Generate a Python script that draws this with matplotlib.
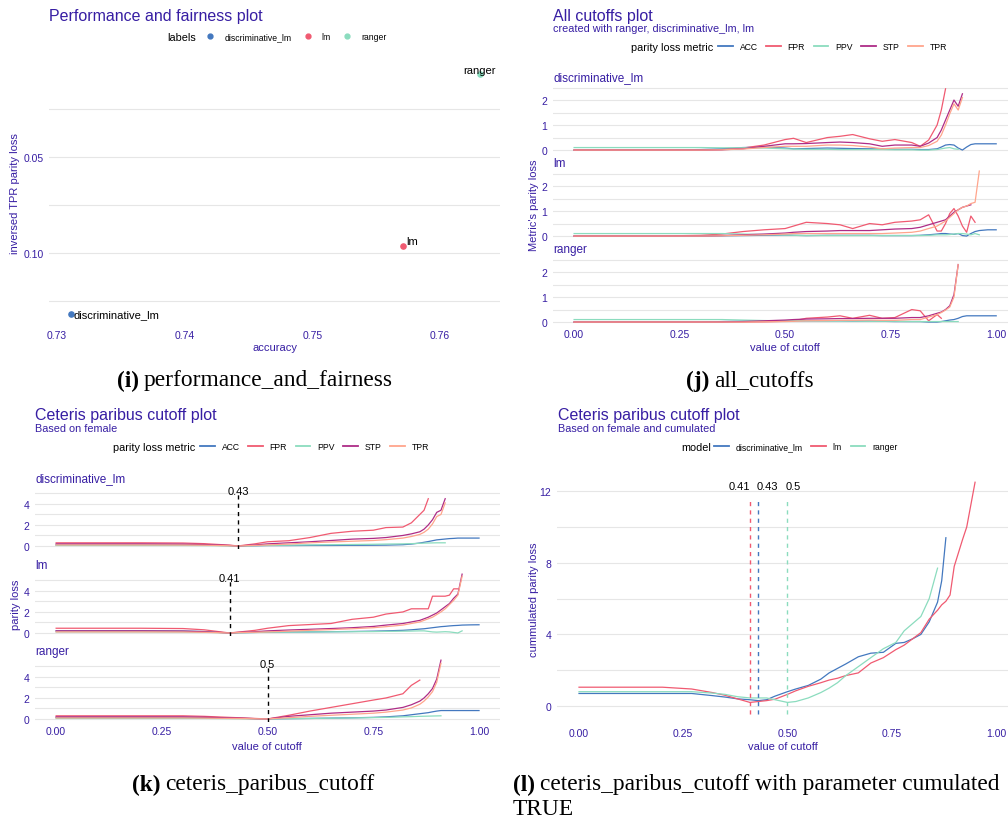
import matplotlib.pyplot as plt
from matplotlib.lines import Line2D
import numpy as np

plt.rcParams['font.family'] = ['Liberation Sans', 'DejaVu Sans']

n = np.nan

# ---------- (i) performance and fairness ----------
pf_models = ['discriminative_lm', 'lm', 'ranger']
pf_accuracy = [0.7311, 0.7571, 0.7631]
pf_inv_tpr_loss = [0.1316, 0.0964, 0.0066]

# ---------- (j) all cutoffs ----------
metrics = ['ACC', 'FPR', 'PPV', 'STP', 'TPR']
cut_j = [0.00, 0.10, 0.20, 0.30, 0.35, 0.40, 0.45, 0.50, 0.52, 0.55, 0.60, 0.63, 0.66, 0.70, 0.73, 0.76,
         0.80, 0.82, 0.84, 0.86, 0.87, 0.88, 0.89, 0.90, 0.91, 0.92, 0.93, 0.94, 0.95, 0.96, 0.98, 1.00]
all_dlm = {
    'ACC': [0, 0, 0, 0.02, 0.05, 0.1, 0.12, 0.08, 0.05, 0.06, 0.08, 0.07, 0.06, 0.05, 0.04, 0.03,
            0.03, 0.02, 0.02, 0.05, 0.12, 0.2, 0.22, 0.2, 0.08, 0.0, 0.12, 0.22, 0.25, 0.25, 0.25, 0.25],
    'FPR': [0, 0, 0, 0, 0.02, 0.08, 0.2, 0.42, 0.47, 0.3, 0.5, 0.55, 0.62, 0.45, 0.35, 0.42,
            0.3, 0.15, 0.4, 1.0, 1.6, 2.45, n, n, n, n, n, n, n, n, n, n],
    'PPV': [0.1, 0.1, 0.1, 0.1, 0.09, 0.09, 0.08, 0.05, 0.04, 0.03, 0.03, 0.02, 0.02, 0.02, 0.02, 0.01,
            0.01, 0.0, 0.0, 0.02, 0.05, 0.08, 0.1, 0.05, 0.03, n, n, n, n, n, n, n],
    'STP': [0, 0, 0, 0, 0.01, 0.05, 0.15, 0.25, 0.25, 0.26, 0.3, 0.32, 0.3, 0.25, 0.15, 0.2,
            0.2, 0.15, 0.28, 0.5, 0.8, 1.2, 1.6, 2.0, 1.75, 2.25, n, n, n, n, n, n],
    'TPR': [0, 0, 0, 0, 0.01, 0.04, 0.1, 0.15, 0.15, 0.15, 0.2, 0.2, 0.18, 0.12, 0.05, 0.08,
            0.1, 0.1, 0.18, 0.35, 0.6, 1.0, 1.45, 1.85, 1.6, 2.1, n, n, n, n, n, n],
}
all_lm = {
    'ACC': [0, 0, 0, 0, 0.01, 0.02, 0.03, 0.04, 0.03, 0.02, 0.03, 0.03, 0.03, 0.03, 0.02, 0.02,
            0.02, 0.03, 0.05, 0.08, 0.1, 0.1, 0.08, 0.07, 0.1, 0.02, 0.0, 0.1, 0.18, 0.22, 0.25, 0.25],
    'FPR': [0, 0, 0, 0.03, 0.08, 0.18, 0.25, 0.3, 0.4, 0.55, 0.5, 0.45, 0.3, 0.5, 0.45, 0.55,
            0.6, 0.65, 0.85, 0.2, 0.2, 0.5, 0.9, 1.1, 0.8, 0.4, 0.15, 0.8, 0.55, n, n, n],
    'PPV': [0.1, 0.1, 0.1, 0.1, 0.1, 0.08, 0.06, 0.04, 0.03, 0.02, 0.02, 0.02, 0.02, 0.02, 0.02, 0.02,
            0.02, 0.02, 0.03, 0.05, 0.05, 0.05, 0.06, 0.08, 0.1, 0.1, 0.08, 0.05, 0.1, 0.05, n, n],
    'STP': [0, 0, 0, 0, 0.02, 0.05, 0.08, 0.12, 0.15, 0.18, 0.2, 0.22, 0.22, 0.22, 0.25, 0.28,
            0.3, 0.35, 0.45, 0.55, 0.6, 0.65, 0.8, 0.95, 1.05, 1.15, 1.2, 1.25, n, n, n, n],
    'TPR': [0, 0, 0, 0, 0.01, 0.03, 0.05, 0.08, 0.1, 0.1, 0.1, 0.1, 0.1, 0.1, 0.1, 0.12,
            0.15, 0.2, 0.3, 0.4, 0.5, 0.6, 0.75, 0.9, 1.05, 1.15, 1.2, 1.3, 1.35, 2.6, n, n],
}
all_ranger = {
    'ACC': [0, 0, 0, 0, 0.02, 0.04, 0.05, 0.05, 0.05, 0.05, 0.05, 0.05, 0.04, 0.04, 0.03, 0.02,
            0.02, 0.02, 0.0, 0.0, 0.02, 0.05, 0.08, 0.1, 0.15, 0.22, 0.25, 0.25, 0.25, 0.25, 0.25, 0.25],
    'FPR': [0, 0, 0, 0, 0, 0, 0.01, 0.03, 0.05, 0.15, 0.2, 0.25, 0.15, 0.27, 0.15, 0.18,
            0.5, 0.45, 0.05, 0.3, 0.15, n, n, n, n, n, n, n, n, n, n, n],
    'PPV': [0.1, 0.1, 0.1, 0.1, 0.1, 0.08, 0.06, 0.05, 0.05, 0.05, 0.04, 0.04, 0.04, 0.03, 0.03, 0.03,
            0.02, 0.02, 0.02, 0.02, 0.02, 0.02, 0.02, 0.02, 0.02, n, n, n, n, n, n, n],
    'STP': [0, 0, 0, 0, 0, 0.02, 0.05, 0.08, 0.1, 0.12, 0.13, 0.14, 0.14, 0.15, 0.15, 0.15,
            0.18, 0.18, 0.25, 0.35, 0.4, 0.5, 0.65, 1.1, 2.3, n, n, n, n, n, n, n],
    'TPR': [0, 0, 0, 0, 0, 0, 0.01, 0.02, 0.03, 0.05, 0.06, 0.07, 0.07, 0.08, 0.07, 0.07,
            0.1, 0.1, 0.2, 0.3, 0.38, 0.48, 0.6, 1.0, 2.3, n, n, n, n, n, n, n],
}

# ---------- (k) ceteris paribus cutoff ----------
cut_k = [0.00, 0.10, 0.20, 0.30, 0.35, 0.41, 0.43, 0.47, 0.50, 0.55, 0.60, 0.65, 0.70, 0.75, 0.78,
         0.82, 0.84, 0.86, 0.87, 0.88, 0.89, 0.90, 0.91, 0.92, 0.93, 0.94, 0.95, 0.96, 0.98, 1.00]
cp_dlm = {
    'ACC': [0.1, 0.1, 0.1, 0.1, 0.08, 0.03, 0.0, 0.02, 0.04, 0.04, 0.05, 0.05, 0.06, 0.07, 0.08,
            0.12, 0.18, 0.28, 0.35, 0.42, 0.5, 0.58, 0.62, 0.66, 0.7, 0.72, 0.75, 0.75, 0.75, 0.75],
    'FPR': [0.3, 0.3, 0.3, 0.28, 0.22, 0.08, 0.0, 0.2, 0.4, 0.5, 0.8, 1.2, 1.4, 1.5, 1.75,
            1.8, 2.2, 3.0, 3.4, 4.5, n, n, n, n, n, n, n, n, n, n],
    'PPV': [0.05, 0.05, 0.05, 0.05, 0.04, 0.02, 0.0, 0.03, 0.05, 0.07, 0.1, 0.12, 0.14, 0.16, 0.18,
            0.2, 0.22, 0.25, 0.27, 0.28, 0.29, 0.3, 0.3, 0.3, n, n, n, n, n, n],
    'STP': [0.2, 0.2, 0.2, 0.18, 0.14, 0.05, 0.0, 0.1, 0.2, 0.3, 0.4, 0.52, 0.65, 0.72, 0.8,
            1.0, 1.15, 1.35, 1.6, 2.0, 2.5, 3.2, 3.4, 4.5, n, n, n, n, n, n],
    'TPR': [0.1, 0.1, 0.1, 0.09, 0.07, 0.02, 0.0, 0.05, 0.1, 0.18, 0.3, 0.38, 0.45, 0.52, 0.6,
            0.75, 0.9, 1.1, 1.3, 1.6, 2.1, 2.8, 3.0, 4.1, n, n, n, n, n, n],
}
cp_lm = {
    'ACC': [0.2, 0.2, 0.2, 0.18, 0.14, 0.0, 0.02, 0.05, 0.07, 0.09, 0.1, 0.12, 0.14, 0.17, 0.2,
            0.25, 0.3, 0.37, 0.4, 0.45, 0.5, 0.55, 0.6, 0.63, 0.67, 0.7, 0.72, 0.75, 0.77, 0.78],
    'FPR': [0.45, 0.45, 0.45, 0.42, 0.3, 0.0, 0.08, 0.25, 0.45, 0.7, 0.8, 0.9, 1.3, 1.5, 1.8,
            2.0, 2.3, 2.3, 2.3, 2.3, 3.5, 3.5, 3.5, 3.5, 3.6, 4.2, 4.2, n, n, n],
    'PPV': [0.1, 0.1, 0.1, 0.09, 0.07, 0.0, 0.02, 0.05, 0.07, 0.08, 0.1, 0.11, 0.12, 0.13, 0.15,
            0.17, 0.18, 0.2, 0.2, 0.15, 0.1, 0.08, 0.1, 0.12, 0.1, 0.05, 0.0, 0.2, n, n],
    'STP': [0.2, 0.2, 0.2, 0.18, 0.12, 0.0, 0.05, 0.12, 0.2, 0.28, 0.35, 0.42, 0.5, 0.62, 0.75,
            0.9, 1.05, 1.2, 1.35, 1.5, 1.7, 1.9, 2.2, 2.5, 2.8, 3.3, 3.7, 5.6, n, n],
    'TPR': [0.1, 0.1, 0.1, 0.09, 0.06, 0.0, 0.03, 0.07, 0.1, 0.17, 0.25, 0.32, 0.4, 0.5, 0.6,
            0.75, 0.9, 1.05, 1.2, 1.35, 1.5, 1.75, 2.0, 2.3, 2.7, 3.1, 3.6, 5.4, n, n],
}
cp_ranger = {
    'ACC': [0.15, 0.15, 0.15, 0.14, 0.12, 0.08, 0.06, 0.03, 0.0, 0.03, 0.05, 0.08, 0.11, 0.15, 0.2,
            0.3, 0.4, 0.5, 0.55, 0.6, 0.68, 0.75, 0.8, 0.8, 0.8, 0.8, 0.8, 0.8, 0.8, 0.8],
    'FPR': [0.3, 0.3, 0.3, 0.3, 0.25, 0.15, 0.12, 0.05, 0.0, 0.35, 0.75, 1.1, 1.45, 1.8, 2.0,
            2.4, 3.2, 3.7, n, n, n, n, n, n, n, n, n, n, n, n],
    'PPV': [0.05, 0.05, 0.05, 0.05, 0.05, 0.03, 0.02, 0.01, 0.0, 0.03, 0.05, 0.07, 0.1, 0.13, 0.15,
            0.2, 0.22, 0.25, 0.26, 0.27, 0.28, 0.29, 0.3, n, n, n, n, n, n, n],
    'STP': [0.2, 0.2, 0.2, 0.2, 0.17, 0.1, 0.08, 0.03, 0.0, 0.25, 0.4, 0.55, 0.65, 0.75, 0.85,
            1.1, 1.35, 1.7, 2.0, 2.4, 2.9, 3.8, 5.6, n, n, n, n, n, n, n],
    'TPR': [0.1, 0.1, 0.1, 0.1, 0.08, 0.05, 0.04, 0.02, 0.0, 0.12, 0.25, 0.35, 0.45, 0.55, 0.65,
            0.85, 1.05, 1.4, 1.7, 2.1, 2.6, 3.5, 5.3, n, n, n, n, n, n, n],
}
cp_minimum = {'discriminative_lm': 0.43, 'lm': 0.41, 'ranger': 0.5}
cp_min_labels = {'discriminative_lm': '0.43', 'lm': '0.41', 'ranger': '0.5'}

# ---------- (l) cumulated ----------
cut_l = [0.00, 0.10, 0.20, 0.27, 0.32, 0.35, 0.38, 0.41, 0.43, 0.45, 0.47, 0.50, 0.52, 0.55, 0.58, 0.60, 0.62,
         0.64, 0.67, 0.70, 0.73, 0.76, 0.78, 0.80, 0.82, 0.84, 0.86, 0.87, 0.88, 0.89, 0.90, 0.92, 0.93, 0.95]
cum_dlm = [0.7, 0.7, 0.7, 0.7, 0.58, 0.5, 0.4, 0.35, 0.3, 0.35, 0.55, 0.8, 0.95, 1.15, 1.5, 1.85, 2.1,
           2.35, 2.75, 2.95, 3.0, 3.5, 3.55, 3.75, 4.0, 4.7, 5.8, 7.0, 9.4, n, n, n, n, n]
cum_lm = [1.05, 1.05, 1.05, 0.95, 0.75, 0.6, 0.4, 0.2, 0.25, 0.3, 0.38, 0.65, 0.85, 1.1, 1.3, 1.45, 1.55,
          1.7, 1.85, 2.4, 2.7, 3.15, 3.4, 3.75, 4.1, 4.85, 5.35, 5.65, 5.85, 6.2, 7.8, 9.3, 10.0, 12.5]
cum_ranger = [0.8, 0.8, 0.8, 0.8, 0.72, 0.65, 0.52, 0.45, 0.45, 0.45, 0.35, 0.2, 0.25, 0.45, 0.75, 1.0, 1.3,
              1.7, 2.2, 2.7, 3.2, 3.55, 4.2, 4.6, 5.0, 6.0, 7.7, n, n, n, n, n, n, n]
cum_minimum = [0.41, 0.43, 0.5]
cum_min_labels = ['0.41', '0.43', '0.5']

# colours
TXT = '#371ea3'
GRID = '#e6e6e6'
metric_cols = {'ACC': '#4378bf', 'FPR': '#f05a71', 'PPV': '#8bdcbe', 'STP': '#ae2c87', 'TPR': '#ffa58c'}
model_cols = {'discriminative_lm': '#4378bf', 'lm': '#f05a71', 'ranger': '#8bdcbe'}

W, H = 1008, 820
fig = plt.figure(figsize=(W / 100, H / 100), dpi=100, facecolor='white')


def add_ax(l, t, r, b):
    return fig.add_axes([l / W, 1 - b / H, (r - l) / W, (b - t) / H])


def put(x, y, s, **kw):
    kw.setdefault('va', 'center')
    return fig.text(x / W, 1 - y / H, s, **kw)


def style(ax, yticks, ylabels, yminor):
    ax.set_facecolor('none')
    for sp in ax.spines.values():
        sp.set_visible(False)
    ax.tick_params(which='both', length=0, labelsize=7.5, labelcolor=TXT)
    ax.tick_params(axis='y', pad=4)
    ax.tick_params(axis='x', pad=3)
    ax.set_yticks(yticks)
    ax.set_yticklabels(ylabels)
    ax.set_yticks(yminor, minor=True)
    ax.grid(axis='y', which='both', color=GRID, lw=0.8)
    ax.set_axisbelow(True)


def cut_xaxis(ax, show):
    ax.set_xticks([0, 0.25, 0.5, 0.75, 1.0])
    if show:
        ax.set_xticklabels(['0.00', '0.25', '0.50', '0.75', '1.00'])
    else:
        ax.set_xticklabels([])


def legend(x, y, title, labels, colors, tx, points=False):
    if points:
        hs = [Line2D([], [], ls='', marker='o', ms=3.5, color=c) for c in colors]
    else:
        hs = [Line2D([], [], lw=1.3, color=c) for c in colors]
    fig.legend(hs, labels, loc='center left', bbox_to_anchor=(x / W, 1 - y / H), ncol=len(labels),
               frameon=False, fontsize=6.2, handlelength=1.7, handletextpad=0.8, columnspacing=1.0,
               borderaxespad=0, borderpad=0)
    put(tx, y, title, fontsize=7.8, ha='right')


def caption(x, y, tag, s, s2=None):
    t = put(x, y, tag, fontsize=16.8, fontweight='bold', family='Liberation Serif')
    bb = t.get_window_extent(renderer=fig.canvas.get_renderer())
    put(bb.x1 + 5, y, s, fontsize=16.8, family='Liberation Serif')
    if s2:
        put(x, y + 25, s2, fontsize=16.8, family='Liberation Serif')


# ---------------- panel (i) ----------------
ax = add_ax(49, 61, 500, 327)
style(ax, [0.05, 0.10], ['0.05', '0.10'], [0.025, 0.075, 0.125])
ax.set_xticks([0.73, 0.74, 0.75, 0.76])
ax.set_xticklabels(['0.73', '0.74', '0.75', '0.76'])
ax.set_xlim(0.7294, 0.7647)
ax.set_ylim(0.1379, -0.0006)
for m, a, v in zip(pf_models, pf_accuracy, pf_inv_tpr_loss):
    ax.scatter([a], [v], s=14, color=model_cols[m], zorder=3)
ax.annotate(pf_models[0], (pf_accuracy[0], pf_inv_tpr_loss[0]), xytext=(2, 0), textcoords='offset points',
            ha='left', va='center', fontsize=8)
ax.annotate(pf_models[1], (pf_accuracy[1], pf_inv_tpr_loss[1]), xytext=(2.5, 3.5), textcoords='offset points',
            ha='left', va='center', fontsize=8)
ax.annotate(pf_models[2], (pf_accuracy[2], pf_inv_tpr_loss[2]), xytext=(0, 2.5), textcoords='offset points',
            ha='center', va='center', fontsize=8)
put(49, 16, 'Performance and fairness plot', fontsize=11.5, color=TXT)
legend(203, 38, 'labels', pf_models, [model_cols[m] for m in pf_models], 196, points=True)
put(15, 194, 'inversed TPR parity loss', fontsize=8, color=TXT, rotation=90, ha='center')
put(275, 348, 'accuracy', fontsize=8, color=TXT, ha='center')

# ---------------- panel (j) ----------------
j_facets = [('discriminative_lm', all_dlm, 82.8, 154.3), ('lm', all_lm, 168.8, 240.3),
            ('ranger', all_ranger, 254.8, 326.3)]
for i, (name, d, t, b) in enumerate(j_facets):
    ax = add_ax(553, t, 1008, b)
    style(ax, [0, 1, 2], ['0', '1', '2'], [0.5, 1.5, 2.5])
    cut_xaxis(ax, i == 2)
    ax.set_xlim(-0.05, 1.028)
    ax.set_ylim(-0.13, 2.73)
    for m in metrics:
        ax.plot(cut_j, d[m], color=metric_cols[m], lw=0.9)
    ax.annotate(name, (0, 1), xycoords='axes fraction', xytext=(0, 3.5), textcoords='offset points',
                fontsize=8.5, color=TXT, ha='left', va='center')
put(553, 16, 'All cutoffs plot', fontsize=11.5, color=TXT)
put(553, 29, 'created with ranger, discriminative_lm, lm', fontsize=7.8, color=TXT)
legend(718, 48, 'parity loss metric', metrics, [metric_cols[m] for m in metrics], 713)
put(534, 205, "Metric's parity loss", fontsize=8, color=TXT, rotation=90, ha='center')
put(785, 348, 'value of cutoff', fontsize=8, color=TXT, ha='center')

# ---------------- panel (k) ----------------
k_facets = [('discriminative_lm', cp_dlm, 485.2, 549.9), ('lm', cp_lm, 572.2, 636.9),
            ('ranger', cp_ranger, 658.2, 722.9)]
for i, (name, d, t, b) in enumerate(k_facets):
    ax = add_ax(35, t, 500, b)
    style(ax, [0, 2, 4], ['0', '2', '4'], [1, 3, 5])
    cut_xaxis(ax, i == 2)
    ax.set_xlim(-0.05, 1.0496)
    ax.set_ylim(-0.28, 5.88)
    for m in metrics:
        ax.plot(cut_k, d[m], color=metric_cols[m], lw=0.9)
    c = cp_minimum[name]
    ax.plot([c, c], [-0.3, 4.95], color='black', lw=1, ls=(0, (3, 3)))
    ax.text(c, 5.2, cp_min_labels[name], fontsize=8, ha='center', va='center')
    ax.annotate(name, (0, 1), xycoords='axes fraction', xytext=(0, 4.5), textcoords='offset points',
                fontsize=8.5, color=TXT, ha='left', va='center')
put(35, 416, 'Ceteris paribus cutoff plot', fontsize=11.5, color=TXT)
put(35, 429, 'Based on female', fontsize=7.8, color=TXT)
legend(200, 448, 'parity loss metric', metrics, [metric_cols[m] for m in metrics], 195)
put(16, 605, 'parity loss', fontsize=8, color=TXT, rotation=90, ha='center')
put(267, 747, 'value of cutoff', fontsize=8, color=TXT, ha='center')

# ---------------- panel (l) ----------------
ax = add_ax(557, 471.6, 1008, 724.9)
style(ax, [0, 4, 8, 12], ['0', '4', '8', '12'], [2, 6, 10])
cut_xaxis(ax, True)
ax.set_xlim(-0.0528, 1.029)
ax.set_ylim(-1.0, 13.15)
for name, vals in zip(pf_models, [cum_dlm, cum_lm, cum_ranger]):
    ax.plot(cut_l, vals, color=model_cols[name], lw=0.9)
label_shift = [-7.9, 6.8, 4.5]
for c, lab, col, dx in zip(cum_minimum, cum_min_labels, ['#f05a71', '#4378bf', '#8bdcbe'], label_shift):
    ax.plot([c, c], [-0.45, 11.6], color=col, lw=1, ls=(0, (3, 3)))
    ax.annotate(lab, (c, 12.3), xytext=(dx, 0), textcoords='offset points', fontsize=8, ha='center', va='center')
put(558, 416, 'Ceteris paribus cutoff plot', fontsize=11.5, color=TXT)
put(558, 429, 'Based on female and cumulated', fontsize=7.8, color=TXT)
legend(714, 448, 'model', pf_models, [model_cols[m] for m in pf_models], 711)
put(534, 600, 'cummulated parity loss', fontsize=8, color=TXT, rotation=90, ha='center')
put(783, 747, 'value of cutoff', fontsize=8, color=TXT, ha='center')

# ---------------- captions ----------------
caption(117, 381, '(i)', 'performance_and_fairness')
caption(686, 381, '(j)', 'all_cutoffs')
caption(132, 785, '(k)', 'ceteris_paribus_cutoff')
caption(513, 785, '(l)', 'ceteris_paribus_cutoff with parameter cumulated', 'TRUE')

fig.savefig('out.png', dpi=100, facecolor='white')
